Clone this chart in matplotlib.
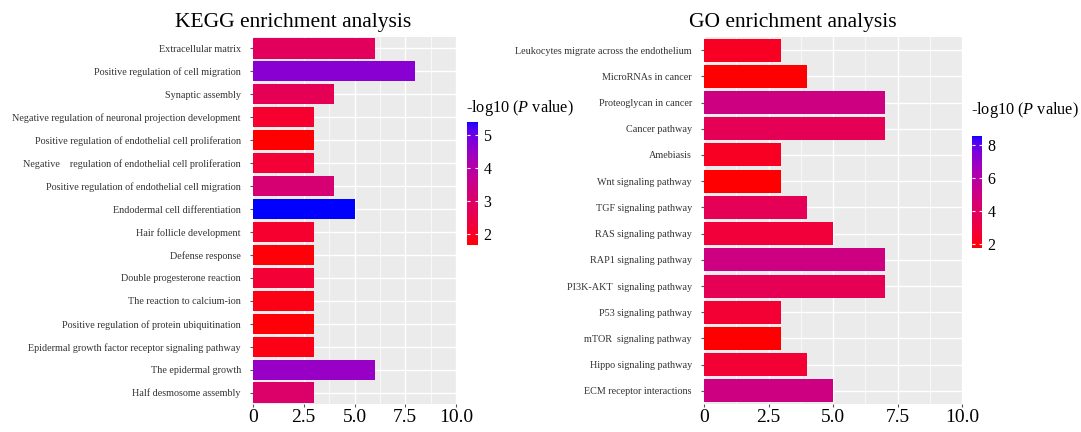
import numpy as np
import matplotlib
matplotlib.use("Agg")
import matplotlib.pyplot as plt
from matplotlib.colors import ListedColormap, Normalize
from matplotlib.ticker import MultipleLocator

plt.rcParams['font.family'] = ['Liberation Serif', 'DejaVu Serif']
plt.rcParams['mathtext.fontset'] = 'custom'
plt.rcParams['mathtext.rm'] = 'Liberation Serif'
plt.rcParams['mathtext.it'] = 'Liberation Serif:italic'

# ---------------- data ----------------
kegg_terms = [
    "Extracellular matrix",
    "Positive regulation of cell migration",
    "Synaptic assembly",
    "Negative regulation of neuronal projection development",
    "Positive regulation of endothelial cell proliferation",
    "Negative    regulation of endothelial cell proliferation",
    "Positive regulation of endothelial cell migration",
    "Endodermal cell differentiation",
    "Hair follicle development",
    "Defense response",
    "Double progesterone reaction",
    "The reaction to calcium-ion",
    "Positive regulation of protein ubiquitination",
    "Epidermal growth factor receptor signaling pathway",
    "The epidermal growth",
    "Half desmosome assembly",
]
kegg_counts = [6, 8, 4, 3, 3, 3, 4, 5, 3, 3, 3, 3, 3, 3, 6, 3]
kegg_logp = [2.8, 4.7, 2.7, 2.1, 1.65, 2.2, 3.15, 5.4, 2.1, 1.7, 2.2, 1.8, 1.7, 1.8, 4.5, 3.0]
kegg_cbar_ticks = [2, 3, 4, 5]
kegg_cbar_limits = (1.65, 5.4)

go_terms = [
    "Leukocytes migrate across the endothelium",
    "MicroRNAs in cancer",
    "Proteoglycan in cancer",
    "Cancer pathway",
    "Amebiasis",
    "Wnt signaling pathway",
    "TGF signaling pathway",
    "RAS signaling pathway",
    "RAP1 signaling pathway",
    "PI3K-AKT  signaling pathway",
    "P53 signaling pathway",
    "mTOR  signaling pathway",
    "Hippo signaling pathway",
    "ECM receptor interactions",
]
go_counts = [3, 4, 7, 7, 3, 3, 4, 5, 7, 7, 3, 3, 4, 5]
go_logp = [2.3, 1.8, 4.95, 3.65, 2.3, 1.8, 3.65, 2.85, 4.95, 3.65, 2.7, 1.8, 2.7, 4.95]
go_cbar_ticks = [2, 4, 6, 8]
go_cbar_limits = (1.75, 8.55)

x_ticks = [0, 2.5, 5.0, 7.5, 10.0]
x_ticklabels = ["0", "2.5", "5.0", "7.5", "10.0"]

# ------------- Lab gradient red -> blue (ggplot style) -------------
def srgb_to_lab(rgb):
    rgb = np.asarray(rgb, float)
    lin = np.where(rgb <= 0.04045, rgb / 12.92, ((rgb + 0.055) / 1.055) ** 2.4)
    M = np.array([[0.4124, 0.3576, 0.1805],
                  [0.2126, 0.7152, 0.0722],
                  [0.0193, 0.1192, 0.9505]])
    xyz = M @ lin
    xyz = xyz / np.array([0.95047, 1.0, 1.08883])
    f = np.where(xyz > 0.008856, np.cbrt(xyz), 7.787 * xyz + 16 / 116)
    L = 116 * f[1] - 16
    a = 500 * (f[0] - f[1])
    b = 200 * (f[1] - f[2])
    return np.array([L, a, b])

def lab_to_srgb(lab):
    L, a, b = lab
    fy = (L + 16) / 116
    fx = fy + a / 500
    fz = fy - b / 200
    f = np.array([fx, fy, fz])
    xyz = np.where(f ** 3 > 0.008856, f ** 3, (f - 16 / 116) / 7.787)
    xyz = xyz * np.array([0.95047, 1.0, 1.08883])
    Minv = np.array([[3.2406, -1.5372, -0.4986],
                     [-0.9689, 1.8758, 0.0415],
                     [0.0557, -0.2040, 1.0570]])
    lin = np.clip(Minv @ xyz, 0, 1)
    rgb = np.where(lin <= 0.0031308, 12.92 * lin, 1.055 * lin ** (1 / 2.4) - 0.055)
    return np.clip(rgb, 0, 1)

lab_lo = srgb_to_lab([1, 0, 0])
lab_hi = srgb_to_lab([0, 0, 1])
cmap = ListedColormap([lab_to_srgb(lab_lo + (lab_hi - lab_lo) * t) for t in np.linspace(0, 1, 256)])

# ---------------- figure ----------------
W, H = 1081, 432
fig = plt.figure(figsize=(W / 100, H / 100), dpi=100)

def px_axes(x0, y0, x1, y1):
    return fig.add_axes([x0 / W, 1 - y1 / H, (x1 - x0) / W, (y1 - y0) / H])

def draw_panel(ax, terms, counts, logp, limits, title, title_x):
    norm = Normalize(vmin=limits[0], vmax=limits[1])
    n = len(terms)
    pos = np.arange(n)
    ax.set_facecolor('#EBEBEB')
    ax.barh(pos, counts, height=0.88, color=cmap(norm(np.array(logp))), zorder=3)
    ax.set_xlim(0, 10)
    ax.set_ylim(n - 0.5, -0.5)
    ax.set_yticks(pos)
    ax.set_yticklabels(terms, fontsize=7.3, color='#333333')
    ax.set_xticks(x_ticks)
    ax.set_xticklabels(x_ticklabels, fontsize=14, color='black')
    ax.xaxis.set_minor_locator(MultipleLocator(1.25))
    ax.grid(which='major', color='white', linewidth=1.0, zorder=0)
    ax.grid(which='minor', axis='x', color='white', linewidth=0.5, zorder=0)
    ax.set_axisbelow(True)
    for s in ax.spines.values():
        s.set_visible(False)
    ax.tick_params(axis='y', which='major', length=2.2, width=0.8, color='#555555', pad=6.5)
    ax.tick_params(axis='x', which='major', length=2.2, width=0.8, color='#555555', pad=1.5)
    ax.tick_params(axis='x', which='minor', length=0)
    fig.text(title_x / W, 1 - 27 / H, title, fontsize=15.5, ha='center', va='baseline')
    return norm

def draw_cbar(cax, norm, ticks, title_xy):
    sm = matplotlib.cm.ScalarMappable(norm=norm, cmap=cmap)
    cb = fig.colorbar(sm, cax=cax, ticks=ticks)
    cb.outline.set_visible(False)
    cax.yaxis.set_ticks_position('both')
    cax.yaxis.set_label_position('right')
    cax.tick_params(axis='y', direction='in', color='white', length=2.5, width=0.8,
                    labelsize=11.5, pad=4, labelright=True, labelleft=False)
    fig.text(title_xy[0] / W, 1 - title_xy[1] / H, r"-log10 ($\mathit{P}$ value)",
             fontsize=11.7, ha='left', va='center')

ax1 = px_axes(253, 37, 456, 404)
n1 = draw_panel(ax1, kegg_terms, kegg_counts, kegg_logp, kegg_cbar_limits,
                "KEGG enrichment analysis", 293)
cax1 = px_axes(467, 122, 478, 245)
draw_cbar(cax1, n1, kegg_cbar_ticks, (466, 108))

ax2 = px_axes(704, 37, 962, 404)
n2 = draw_panel(ax2, go_terms, go_counts, go_logp, go_cbar_limits,
                "GO enrichment analysis", 793)
cax2 = px_axes(972, 136, 982, 248)
draw_cbar(cax2, n2, go_cbar_ticks, (971, 110))

fig.savefig("out.png", dpi=100)
